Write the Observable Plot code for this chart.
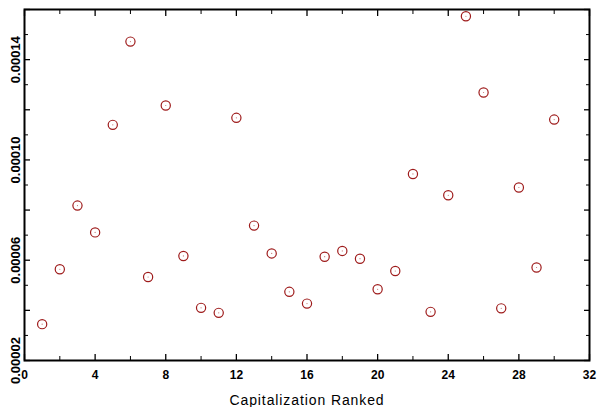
<!DOCTYPE html>
<html>
<head>
<meta charset="utf-8">
<script src="https://cdn.jsdelivr.net/npm/d3@7"></script>
<script src="https://cdn.jsdelivr.net/npm/@observablehq/plot@0.6"></script>
<style>
  html, body { margin: 0; padding: 0; background: #fff; }
  #chart svg { display: block; }
  .xlabel text { letter-spacing: 0.9px; }
</style>
</head>
<body>
<div id="chart"></div>
<script>
const rank = [1,2,3,4,5,6,7,8,9,10,11,12,13,14,15,16,17,18,19,20,21,22,23,24,25,26,27,28,29,30];
const value = [
  0.0000345, 0.0000564, 0.0000818, 0.0000711, 0.0001140, 0.0001472, 0.0000533, 0.0001217, 0.0000617, 0.0000410,
  0.0000390, 0.0001168, 0.0000738, 0.0000627, 0.0000474, 0.0000427, 0.0000614, 0.0000637, 0.0000606, 0.0000484,
  0.0000557, 0.0000944, 0.0000394, 0.0000859, 0.0001573, 0.0001269, 0.0000408, 0.0000890, 0.0000571, 0.0001161
];
const xMajorTicks = [0, 4, 8, 12, 16, 20, 24, 28, 32];
const xMinorTicks = [2, 6, 10, 14, 18, 22, 26, 30];
const yMajorTicks = [0.00002, 0.00004, 0.00006, 0.00008, 0.00010, 0.00012, 0.00014, 0.00016];
const yMinorTicks = [0.00003, 0.00005, 0.00007, 0.00009, 0.00011, 0.00013, 0.00015];
const yLabelTicks = [0.00002, 0.00006, 0.00010, 0.00014];
const yLabelText = ["0.00002", "0.00006", "0.00010", "0.00014"];
const xLabel = "Capitalization Ranked";

const data = rank.map((r, i) => ({rank: r, value: value[i]}));
const yLabels = yLabelTicks.map((v, i) => ({v, t: yLabelText[i]}));
const blank = () => "";
const red = "#9e1b1b";
const font = "Liberation Sans, Arial, sans-serif";

const chart = Plot.plot({
  width: 599,
  height: 407,
  marginLeft: 24,
  marginRight: 10,
  marginTop: 9,
  marginBottom: 47,
  style: {fontFamily: font, background: "#fff"},
  x: {domain: [0, 32], axis: null},
  y: {domain: [0.00002, 0.00016], axis: null},
  marks: [
    // inward ticks on all sides
    Plot.axisX({anchor: "bottom", ticks: xMajorTicks, tickSize: -6, tickFormat: blank, label: null, strokeWidth: 1.3}),
    Plot.axisX({anchor: "bottom", ticks: xMinorTicks, tickSize: -4, tickFormat: blank, label: null}),
    Plot.axisX({anchor: "top", ticks: xMajorTicks, tickSize: -6, tickFormat: blank, label: null, strokeWidth: 1.3}),
    Plot.axisX({anchor: "top", ticks: xMinorTicks, tickSize: -4, tickFormat: blank, label: null}),
    Plot.axisY({anchor: "left", ticks: yMajorTicks, tickSize: -6, tickFormat: blank, label: null, strokeWidth: 1.3}),
    Plot.axisY({anchor: "left", ticks: yMinorTicks, tickSize: -4, tickFormat: blank, label: null}),
    Plot.axisY({anchor: "right", ticks: yMajorTicks, tickSize: -6, tickFormat: blank, label: null, strokeWidth: 1.3}),
    Plot.axisY({anchor: "right", ticks: yMinorTicks, tickSize: -4, tickFormat: blank, label: null}),
    Plot.frame({stroke: "#000", strokeWidth: 2}),
    // tick labels
    Plot.text(xMajorTicks, {x: d => d, text: d => String(d), frameAnchor: "bottom", dy: 15,
      lineAnchor: "middle", fontSize: 12, fontWeight: "bold", fill: "#000"}),
    Plot.text(yLabels, {y: "v", text: "t", frameAnchor: "left", dx: -9, rotate: -90,
      textAnchor: "middle", lineAnchor: "middle", fontSize: 13, fontWeight: "bold", fill: "#000"}),
    Plot.text([xLabel], {text: d => d, frameAnchor: "bottom", dy: 40, lineAnchor: "middle",
      fontSize: 14, fill: "#000", className: "xlabel"}),
    // points
    Plot.dot(data, {x: "rank", y: "value", r: 4.6, stroke: red, strokeWidth: 1.2, fill: "none"}),
    Plot.dot(data, {x: "rank", y: "value", r: 0.6, fill: red, fillOpacity: 0.6, stroke: "none"})
  ]
});
document.getElementById("chart").appendChild(chart);
</script>
</body>
</html>
